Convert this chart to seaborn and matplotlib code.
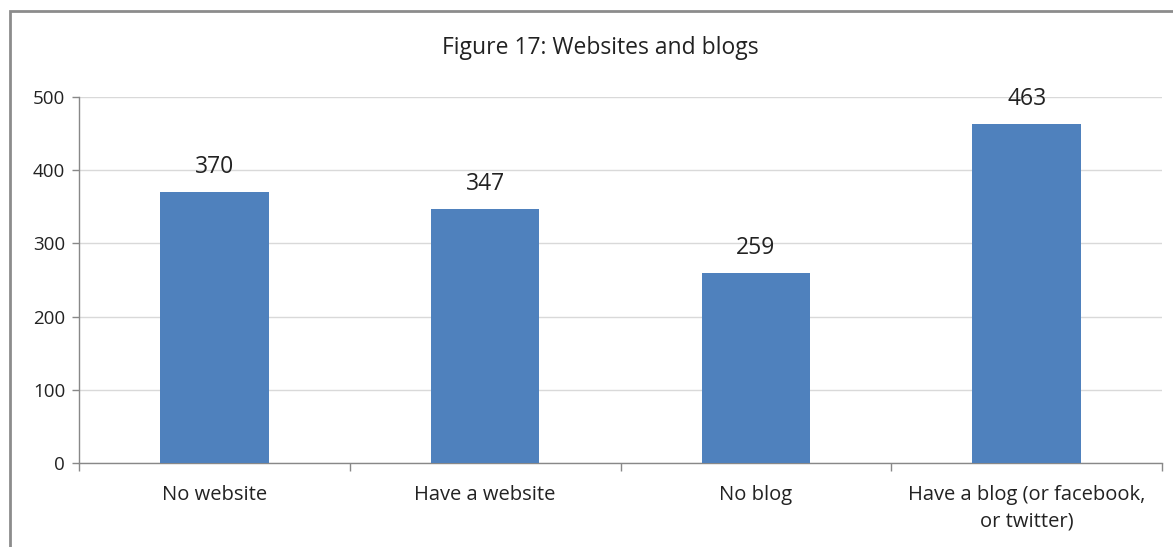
import matplotlib
matplotlib.use("Agg")
import matplotlib.pyplot as plt
import matplotlib.patches as mpatches
import seaborn as sns
import pandas as pd

# data
categories = ["No website", "Have a website", "No blog", "Have a blog (or facebook,\nor twitter)"]
counts = [370, 347, 259, 463]
yticks = [0, 100, 200, 300, 400, 500]

df = pd.DataFrame({"category": categories, "count": counts})

sns.set_style("white")
plt.rcParams["font.family"] = ["Open Sans", "DejaVu Sans"]

fig = plt.figure(figsize=(11.73, 5.47), dpi=100)
ax = fig.add_axes([79 / 1173, 1 - 463 / 547, (1162 - 79) / 1173, (463 - 97) / 547])

sns.barplot(data=df, x="category", y="count", color="#4F81BD", saturation=1,
            width=0.4, linewidth=0, ax=ax, zorder=3)

ax.set_ylim(0, 500)
ax.set_xlim(-0.5, len(categories) - 0.5)
ax.set_yticks(yticks)
ax.set_xlabel("")
ax.set_ylabel("")
ax.grid(axis="y", color="#D9D9D9", linewidth=1, zorder=0)

for side in ["top", "right"]:
    ax.spines[side].set_visible(False)
for side in ["left", "bottom"]:
    ax.spines[side].set_color("#888888")
    ax.spines[side].set_linewidth(1)

# x ticks sit on the category boundaries, labels centred under the bars
ax.set_xticks([i - 0.5 for i in range(len(categories) + 1)], minor=False)
ax.set_xticklabels([""] * (len(categories) + 1))
ax.set_xticks(range(len(categories)), minor=True)
ax.set_xticklabels(categories, minor=True, fontsize=14.5, color="#222222",
                   linespacing=1.45)
ax.tick_params(axis="x", which="major", direction="out", length=6, width=1,
               color="#888888", bottom=True)
ax.tick_params(axis="x", which="minor", length=0, pad=16)
ax.tick_params(axis="y", direction="out", length=5, width=1, color="#888888",
               left=True, labelsize=13.5, labelcolor="#222222", pad=5)
for lab in ax.get_xticklabels(minor=True):
    lab.set_verticalalignment("top")

for i, v in enumerate(counts):
    ax.text(i, v + 18, str(v), ha="center", va="bottom", fontsize=16.5,
            color="#222222")

fig.text(600 / 1173, 1 - 48 / 547, "Figure 17: Websites and blogs", ha="center",
         va="center", fontsize=16.5, color="#222222")

# outer chart frame (cut off on right and bottom in the reference)
frame = mpatches.Rectangle((10 / 1173, -0.05), 1.1, 1 - 11 / 547 + 0.05,
                           transform=fig.transFigure, fill=False,
                           edgecolor="#8C8C8C", linewidth=2)
fig.patches.append(frame)

fig.savefig("out.png", dpi=100)
